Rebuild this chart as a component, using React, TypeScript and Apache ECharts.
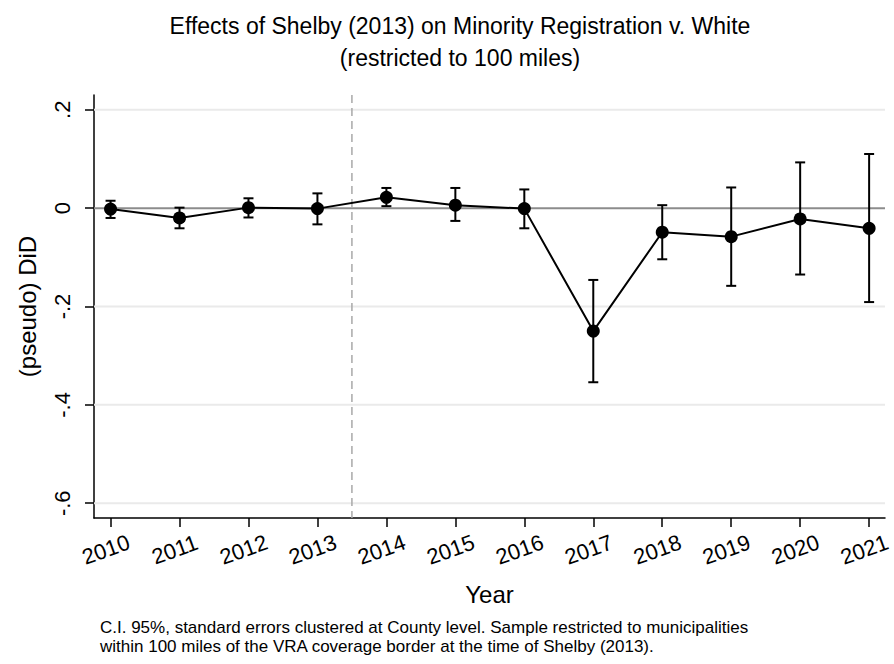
import React, { useEffect, useRef } from "react";
import * as echarts from "echarts";

const years = [2010, 2011, 2012, 2013, 2014, 2015, 2016, 2017, 2018, 2019, 2020, 2021];
const coef = [-0.002, -0.02, 0.001, -0.001, 0.022, 0.006, -0.001, -0.25, -0.049, -0.058, -0.022, -0.041];
const lower = [-0.02, -0.041, -0.019, -0.033, 0.004, -0.026, -0.041, -0.354, -0.104, -0.158, -0.135, -0.191];
const upper = [0.015, 0.001, 0.02, 0.03, 0.041, 0.041, 0.038, -0.146, 0.006, 0.042, 0.093, 0.11];
const yTicks = [-0.6, -0.4, -0.2, 0, 0.2];
const yTickLabels = ["-.6", "-.4", "-.2", "0", ".2"];
const treatmentYear = 2013.5;
const titleText = "Effects of Shelby (2013) on Minority Registration v. White\n(restricted to 100 miles)";
const noteLines = [
  "C.I. 95%, standard errors clustered at County level. Sample restricted to municipalities",
  "within 100 miles of the VRA coverage border at the time of Shelby (2013).",
];

const FONT = "'Liberation Sans', Arial, Helvetica, sans-serif";

export default function App() {
  const ref = useRef<HTMLDivElement>(null);

  useEffect(() => {
    document.body.style.margin = "0";
    const chart = echarts.init(ref.current!, null, { renderer: "svg" });
    chart.setOption({
      animation: false,
      backgroundColor: "#ffffff",
      textStyle: { fontFamily: FONT },
      title: {
        text: titleText,
        left: 455,
        textAlign: "center",
        top: 5,
        textStyle: { fontSize: 23, fontWeight: "normal", color: "#000", lineHeight: 32, fontFamily: FONT },
      },
      grid: { left: 94, right: 8, top: 95, bottom: 146, containLabel: false },
      xAxis: {
        type: "value",
        min: 2009.76,
        max: 2021.23,
        name: "Year",
        nameLocation: "middle",
        nameGap: 64,
        nameTextStyle: { fontSize: 24, color: "#000", fontFamily: FONT },
        axisLine: { show: true, onZero: false, lineStyle: { color: "#000", width: 1.5 } },
        axisTick: { show: true, length: 9, customValues: years, lineStyle: { color: "#000", width: 1.5 } },
        axisLabel: {
          customValues: years,
          formatter: (v: number) => String(v),
          rotate: 20,
          align: "center",
          verticalAlign: "middle",
          padding: [0, 10, 0, 0],
          margin: 30,
          fontSize: 22,
          color: "#000",
          fontFamily: FONT,
          hideOverlap: false,
        },
        splitLine: { show: false },
      },
      yAxis: {
        type: "value",
        min: -0.63,
        max: 0.23,
        name: "(pseudo) DiD",
        nameLocation: "middle",
        nameGap: 55,
        nameTextStyle: { fontSize: 24, color: "#000", fontFamily: FONT },
        axisLine: { show: true, onZero: false, lineStyle: { color: "#000", width: 1.5 } },
        axisTick: { show: true, length: 9, customValues: yTicks, lineStyle: { color: "#000", width: 1.5 } },
        axisLabel: {
          customValues: yTicks,
          formatter: (v: number) => {
            const i = yTicks.findIndex((t) => Math.abs(t - v) < 1e-9);
            return i >= 0 ? yTickLabels[i] : "";
          },
          rotate: 90,
          margin: 21,
          fontSize: 22,
          color: "#000",
          fontFamily: FONT,
        },
        splitLine: { show: false },
      },
      series: [
        {
          type: "custom",
          z: 1,
          silent: true,
          data: yTicks.map((v) => [v]),
          encode: { y: 0 },
          renderItem: (params: any, api: any) => {
            const v = api.value(0);
            const cs = params.coordSys;
            const y = api.coord([2015, v])[1];
            const isZero = Math.abs(v) < 1e-9;
            return {
              type: "line",
              shape: { x1: cs.x, y1: y, x2: cs.x + cs.width, y2: y },
              style: { stroke: isZero ? "#8c8c8c" : "#eaeaea", lineWidth: 2 },
              z2: isZero ? 2 : 1,
            };
          },
        },
        {
          type: "custom",
          z: 1,
          silent: true,
          data: [[treatmentYear]],
          encode: { x: 0 },
          renderItem: (params: any, api: any) => {
            const cs = params.coordSys;
            const x = api.coord([api.value(0), 0])[0];
            return {
              type: "line",
              shape: { x1: x, y1: cs.y, x2: x, y2: cs.y + cs.height },
              style: { stroke: "#a9a9a9", lineWidth: 1.5, lineDash: [8, 5] },
              z2: 3,
            };
          },
        },
        {
          type: "line",
          z: 3,
          silent: true,
          data: years.map((y, i) => [y, coef[i]]),
          symbol: "circle",
          symbolSize: 13,
          showSymbol: true,
          label: { show: false },
          itemStyle: { color: "#000", borderWidth: 0 },
          lineStyle: { color: "#000", width: 2 },
          emphasis: { disabled: true },
        },
        {
          type: "custom",
          z: 4,
          silent: true,
          data: years.map((y, i) => [y, lower[i], upper[i]]),
          encode: { x: 0, y: [1, 2] },
          renderItem: (params: any, api: any) => {
            const x = api.value(0);
            const lo = api.coord([x, api.value(1)]);
            const hi = api.coord([x, api.value(2)]);
            const hw = 5;
            const style = { stroke: "#000", lineWidth: 2, fill: "none" };
            return {
              type: "group",
              children: [
                { type: "line", shape: { x1: lo[0], y1: lo[1], x2: hi[0], y2: hi[1] }, style },
                { type: "line", shape: { x1: lo[0] - hw, y1: lo[1], x2: lo[0] + hw, y2: lo[1] }, style },
                { type: "line", shape: { x1: hi[0] - hw, y1: hi[1], x2: hi[0] + hw, y2: hi[1] }, style },
              ],
            };
          },
        },
      ],
      graphic: noteLines.map((t, i) => ({
        type: "text",
        left: 100,
        top: 619 + i * 19,
        style: {
          text: t,
          fontSize: 17,
          fill: "#000",
          fontFamily: FONT,
        },
      })),
    });
    return () => chart.dispose();
  }, []);

  return (
    <div
      ref={ref}
      style={{ position: "absolute", left: 0, top: 0, width: 894, height: 664, background: "#fff" }}
    />
  );
}
